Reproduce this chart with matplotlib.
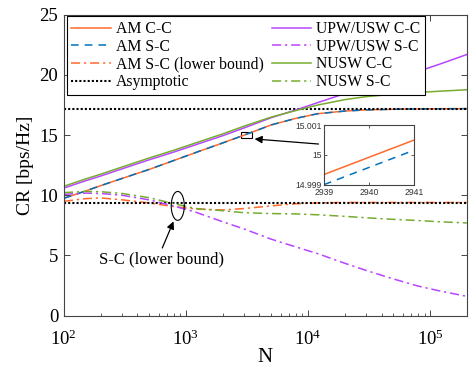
import numpy as np
import matplotlib
matplotlib.use("Agg")
import matplotlib.pyplot as plt
from matplotlib.patches import Rectangle

plt.rcParams['font.family'] = ['Liberation Serif', 'DejaVu Serif']
plt.rcParams['mathtext.fontset'] = 'custom'
plt.rcParams['mathtext.rm'] = 'Liberation Serif'
plt.rcParams['mathtext.it'] = 'Liberation Serif:italic'

# Number of antenna elements
N = [100, 150, 200, 300, 500, 800, 1200, 2000, 3000, 5000, 8000,
     12000, 20000, 30000, 50000, 80000, 120000, 200000]

# Achievable rates [bps/Hz]
am_cc = [9.75, 10.35, 10.8, 11.4, 12.15, 12.9, 13.55, 14.35, 15.0, 15.85, 16.4,
         16.78, 17.0, 17.1, 17.15, 17.18, 17.19, 17.2]
am_sc = [9.75, 10.35, 10.8, 11.4, 12.15, 12.9, 13.55, 14.35, 15.0, 15.85, 16.4,
         16.78, 17.0, 17.1, 17.15, 17.18, 17.19, 17.2]
am_sc_lb = [9.5, 9.72, 9.78, 9.62, 9.36, 9.06, 8.85, 8.78, 8.9, 9.12, 9.3,
            9.37, 9.4, 9.4, 9.4, 9.4, 9.4, 9.4]
upw_cc = [10.6, 11.2, 11.6, 12.2, 12.95, 13.6, 14.2, 14.95, 15.6, 16.45, 17.1,
          17.7, 18.45, 19.0, 19.7, 20.3, 20.9, 21.7]
upw_sc = [10.08, 10.18, 10.15, 10.0, 9.62, 9.1, 8.6, 7.8, 7.2, 6.35, 5.7,
          5.15, 4.35, 3.75, 3.05, 2.45, 2.05, 1.6]
nusw_cc = [10.75, 11.35, 11.75, 12.35, 13.1, 13.75, 14.35, 15.1, 15.75, 16.5, 17.05,
           17.5, 17.95, 18.2, 18.4, 18.55, 18.65, 18.77]
nusw_sc = [10.22, 10.32, 10.3, 10.15, 9.8, 9.3, 8.9, 8.72, 8.55, 8.48, 8.45,
           8.38, 8.25, 8.13, 8.0, 7.9, 7.8, 7.7]
asym_cc = 17.2
asym_sc = 9.38

# Zoomed detail around N = 2940
N_zoom = [2939, 2941]
am_cc_zoom = [14.99934, 15.0005]
am_sc_zoom = [14.99900, 15.00016]

c_orange = '#FF6A2B'
c_blue = '#0072BD'
c_purple = '#B845FF'
c_green = '#77AC30'
spine_c = '#444444'

fig = plt.figure(figsize=(4.73, 3.70), dpi=100)
ax = fig.add_axes([0.135, 0.147, 0.852, 0.813])

lw = 1.1
dd = (0, (6, 2.5, 1.5, 2.5))
ax.plot(N, am_cc, color=c_orange, lw=lw, label='AM C-C')
ax.plot(N, am_sc, color=c_blue, lw=lw, ls=(0, (5, 4)), label='AM S-C')
ax.plot(N, am_sc_lb, color=c_orange, lw=lw, ls=dd, label='AM S-C (lower bound)')
ax.axhline(asym_cc, color='k', lw=1.5, ls=(0, (1, 1)), label='Asymptotic')
ax.axhline(asym_sc, color='k', lw=1.5, ls=(0, (1, 1)))
ax.plot(N, upw_cc, color=c_purple, lw=lw, label='UPW/USW C-C')
ax.plot(N, upw_sc, color=c_purple, lw=lw, ls=dd, label='UPW/USW S-C')
ax.plot(N, nusw_cc, color=c_green, lw=lw, label='NUSW C-C')
ax.plot(N, nusw_sc, color=c_green, lw=lw, ls=dd, label='NUSW S-C')

ax.set_xscale('log')
ax.set_xlim(100, 2e5)
ax.set_ylim(0, 25)
ax.set_yticks([0, 5, 10, 15, 20, 25])
ax.set_xticks([1e2, 1e3, 1e4, 1e5])
ax.set_xticklabels([r'$10^2$', r'$10^3$', r'$10^4$', r'$10^5$'])
ax.tick_params(which='both', direction='in', top=True, right=True,
               labelsize=13.5, color=spine_c, pad=4)
ax.tick_params(axis='x', which='both', pad=10)
ax.tick_params(which='major', length=4, width=0.7)
ax.tick_params(which='minor', length=2.2, width=0.6)
for s in ax.spines.values():
    s.set_color(spine_c)
    s.set_linewidth(0.8)
ax.set_xlabel('N', fontsize=15, labelpad=-1)
ax.set_ylabel('CR [bps/Hz]', fontsize=14, labelpad=4)

leg = ax.legend(ncol=2, loc='upper left', bbox_to_anchor=(0.007, 0.995),
                fontsize=11.3, frameon=True, fancybox=False, edgecolor='k',
                framealpha=1, handlelength=2.5, handletextpad=0.33,
                columnspacing=0.5, labelspacing=0.11, borderpad=0.3,
                borderaxespad=0)
leg.get_frame().set_linewidth(0.8)

# Marked region and arrow to the zoomed view
ax.add_patch(Rectangle((2800, 14.75), 700, 0.55, fill=False, ec='k', lw=0.8))
ax.annotate('', xy=(3650, 14.68), xytext=(12200, 14.26),
            arrowprops=dict(arrowstyle='-|>', color='k', lw=0.9,
                            mutation_scale=11, shrinkA=0, shrinkB=0))

# Ellipse around the S-C lower-bound crossing
t = np.linspace(0, 2 * np.pi, 200)
ax.plot(857 * 10 ** (0.0535 * np.cos(t)), 9.12 + 1.2 * np.sin(t), color='k', lw=0.8)
ax.annotate('', xy=(791, 7.83), xytext=(640, 5.62),
            arrowprops=dict(arrowstyle='-|>', color='k', lw=0.9,
                            mutation_scale=11, shrinkA=0, shrinkB=0))
ax.text(635, 4.65, 'S-C (lower bound)', fontsize=12, ha='center', va='center')

# Zoomed inset
axi = fig.add_axes([0.685, 0.501, 0.191, 0.161])
axi.plot(N_zoom, am_cc_zoom, color=c_orange, lw=lw)
axi.plot(N_zoom, am_sc_zoom, color=c_blue, lw=lw, ls=(0, (5, 4)))
axi.set_xlim(2939, 2941)
axi.set_ylim(14.999, 15.001)
axi.set_xticks([2939, 2940, 2941])
axi.set_xticklabels(['2939', '2940', '2941'])
axi.set_yticks([14.999, 15.0, 15.001])
axi.set_yticklabels(['14.999', '15', '15.001'])
axi.tick_params(direction='in', top=True, right=True, labelsize=6.2,
                length=2.5, width=0.6, color=spine_c, labelcolor='#333333')
axi.tick_params(axis='x', pad=2.5)
axi.tick_params(axis='y', pad=1.5)
for lab in axi.get_xticklabels() + axi.get_yticklabels():
    lab.set_family(['Liberation Sans', 'DejaVu Sans'])
for s in axi.spines.values():
    s.set_color(spine_c)
    s.set_linewidth(0.8)

fig.savefig('out.png', dpi=100)
